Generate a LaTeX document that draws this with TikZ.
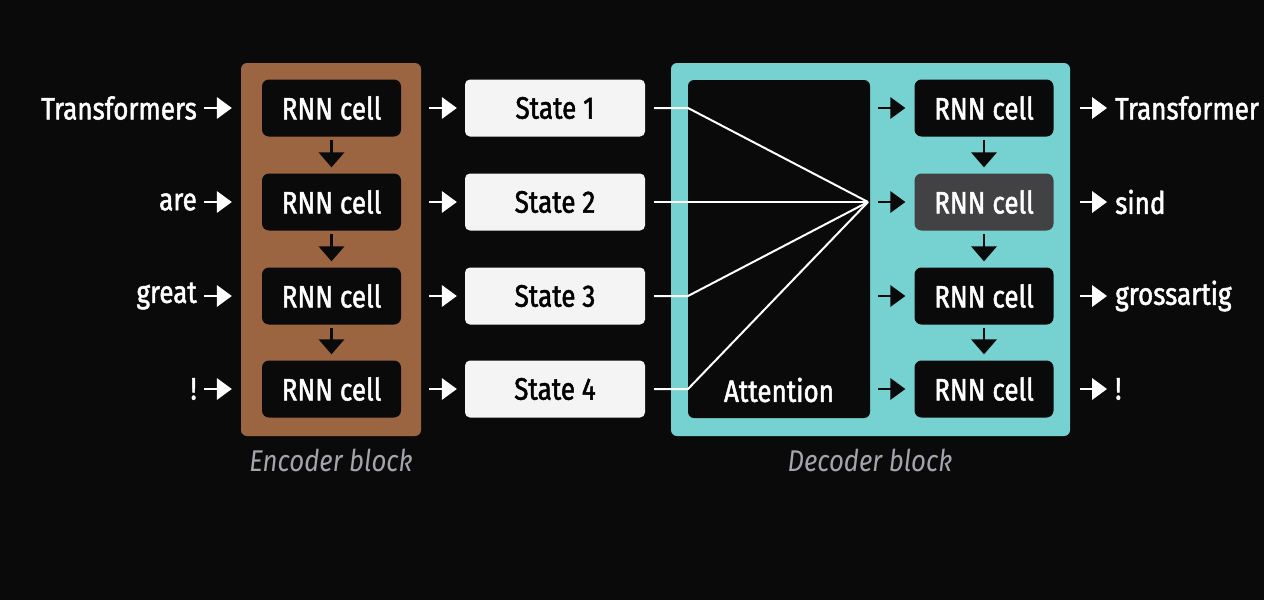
\documentclass[tikz,border=0pt]{standalone}
\usepackage{fontspec}
\setmainfont{Fira Sans}[FakeStretch=0.84, FakeBold=1.6]
\newfontfamily\labelfont{Fira Sans}[FakeStretch=0.86]
\usetikzlibrary{calc}
\definecolor{bg}{HTML}{0A0A0A}
\definecolor{encbrown}{HTML}{9B6541}
\definecolor{decteal}{HTML}{76D2D0}
\definecolor{statefill}{HTML}{F4F4F4}
\definecolor{cellgray}{HTML}{424244}
\definecolor{labgray}{HTML}{A4A4AC}
\tikzset{
  txt/.style={font=\fontsize{31}{31}\selectfont, inner sep=0pt},
  cellbox/.style={txt, fill=bg, text=white, rounded corners=7pt, minimum width=139pt, minimum height=57pt},
  statebox/.style={txt, fill=statefill, text=black, rounded corners=5pt, minimum width=180pt, minimum height=57pt},
  wlabel/.style={txt, text=white},
  shaft/.style={line width=2.8pt},
  attline/.style={draw=white, line width=2pt, line join=round},
  blocklabel/.style={font=\labelfont\fontsize{30}{30}\selectfont\itshape, text=labgray, inner sep=0pt},
}
% right-pointing arrow: colour, start point, tip point
\newcommand\myrarrow[3]{%
  \draw[#1, shaft] (#2) -- ($(#3)+(-10,0)$);
  \fill[#1] (#3) -- ++(-15,-11) -- ++(0,22) -- cycle;}
% down-pointing arrow: colour, start point, tip point (y grows downward)
\newcommand\mydarrow[3]{%
  \draw[#1, shaft] (#2) -- ($(#3)+(0,-10)$);
  \fill[#1] (#3) -- ++(-13,-15) -- ++(26,0) -- cycle;}
\begin{document}
\begin{tikzpicture}[x=1pt,y=-1pt]
\useasboundingbox (0,0) rectangle (1264,600);
\fill[bg] (0,0) rectangle (1264,600);
% blocks
\fill[encbrown, rounded corners=6pt] (241,63) rectangle (421,436);
\fill[decteal, rounded corners=6pt] (671,63) rectangle (1070,436);
\node[fill=bg, rounded corners=6pt, minimum width=182pt, minimum height=338pt, inner sep=0pt] (att) at (779,249) {};
\node[wlabel, anchor=center] (attlab) at (779,390) {Attention};
% rows
\foreach \i/\y/\w/\o in {1/108/Transformers/Transformer, 2/202/are/sind, 3/296/great/grossartig, 4/389/!/!} {
  \node[wlabel, anchor=east] (in\i) at (197,\y) {\w};
  \node[cellbox] (enc\i) at (331.5,\y) {RNN cell};
  \node[statebox] (st\i) at (555,\y) {State \i};
  \coordinate (bend\i) at (688,\y);
  \node[wlabel, anchor=west] (out\i) at (1115,\y) {\o};
  \myrarrow{white}{$(in\i.east |- enc\i.west)+(7,0)$}{$(enc\i.west)+(-30,0)$}
  \myrarrow{white}{$(enc\i.east)+(28,0)$}{$(st\i.west)+(-8,0)$}
}
\node[cellbox] (dec1) at (984,108) {RNN cell};
\node[cellbox, fill=cellgray] (dec2) at (984,202) {RNN cell};
\node[cellbox] (dec3) at (984,296) {RNN cell};
\node[cellbox] (dec4) at (984,389) {RNN cell};
\coordinate (focus) at (868,202);
\foreach \i in {1,2,3,4} {
  \myrarrow{bg}{$(att.east |- dec\i.west)+(8,0)$}{$(dec\i.west)+(-9,0)$}
  \myrarrow{white}{$(dec\i.east)+(26,0)$}{$(out\i.west |- dec\i.east)+(-8,0)$}
}
\foreach \i in {1,3,4} {
  \draw[attline] ($(st\i.east)+(9,0)$) -- (bend\i) -- (focus);
}
\draw[attline] ($(st2.east)+(9,0)$) -- (focus);
% vertical arrows
\foreach \a/\b in {1/2,2/3,3/4} {
  \mydarrow{bg}{$(enc\a.south)+(0,3)$}{$(enc\b.north)+(0,-6)$}
  \mydarrow{bg}{$(dec\a.south)+(0,3)$}{$(dec\b.north)+(0,-6)$}
}
\node[blocklabel] (enclab) at (331,460) {Encoder block};
\node[blocklabel] (declab) at (870,460) {Decoder block};
\end{tikzpicture}
\end{document}
